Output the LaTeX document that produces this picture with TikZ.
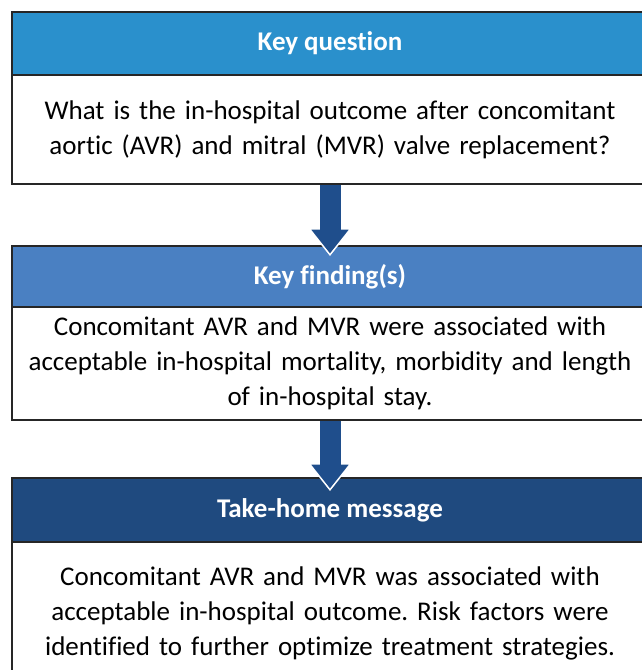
\documentclass[tikz,border=0pt]{standalone}
\usepackage{fontspec}
\setmainfont{Carlito}[Ligatures=NoCommon]
\frenchspacing
\usetikzlibrary{positioning,arrows.meta}
\definecolor{askblue}{RGB}{42,144,204}
\definecolor{findblue}{RGB}{74,128,194}
\definecolor{homeblue}{RGB}{31,74,127}
\definecolor{arrowblue}{RGB}{31,78,140}

\begin{document}
\begin{tikzpicture}[x=1pt,y=1pt,
    head/.style={draw=black!85, line width=2pt, minimum width=636pt, outer sep=0pt,
      text=white, font=\fontsize{27}{35}\selectfont\bfseries},
    body/.style={draw=black!85, line width=2pt, fill=white, minimum width=636pt,
      text width=630pt, inner sep=2pt, align=center, outer sep=0pt,
      font=\fontsize{27}{35}\selectfont},
    fatarrow/.style={line width=21pt, arrowblue,
      -{Triangle[width=44pt,length=28pt,color=white,fill=arrowblue,line width=1.5pt]}},
    shaft/.style={line width=21pt, arrowblue}]
  \useasboundingbox (0,0) rectangle (642,-670);
  \clip (0,0) rectangle (642,-670);

  % key question
  \node[head, fill=askblue, minimum height=63pt] (ask) at (330,-43.5) {Key question};
  \node[body, minimum height=109pt, below=0pt of ask] (askbody)
    {What is the in-hospital outcome after concomitant\\
     aortic (AVR) and mitral (MVR) valve replacement?};

  % key findings
  \node[head, fill=findblue, minimum height=61pt, below=62pt of askbody] (find) {Key finding(s)};
  \node[body, minimum height=113pt, below=0pt of find] (findbody)
    {Concomitant AVR and MVR were associated with\\
     acceptable in-hospital mortality, morbidity and length\\
     of in-hospital stay.};

  % take-home message
  \node[head, fill=homeblue, minimum height=64pt, below=58pt of findbody] (home) {Take-home message};
  \node[body, minimum height=142pt, below=0pt of home] (homebody)
    {Concomitant AVR and MVR was associated with\\
     acceptable in-hospital outcome. Risk factors were\\
     identified to further optimize treatment strategies.};

  % arrows
  \draw[fatarrow, shorten <=1pt, shorten >=-10pt] (askbody.south) -- (find.north);
  \draw[shaft, shorten <=1pt, shorten >=16pt] (askbody.south) -- (find.north);
  \draw[fatarrow, shorten <=1pt, shorten >=-13pt] (findbody.south) -- (home.north);
  \draw[shaft, shorten <=1pt, shorten >=12pt] (findbody.south) -- (home.north);
\end{tikzpicture}
\end{document}
